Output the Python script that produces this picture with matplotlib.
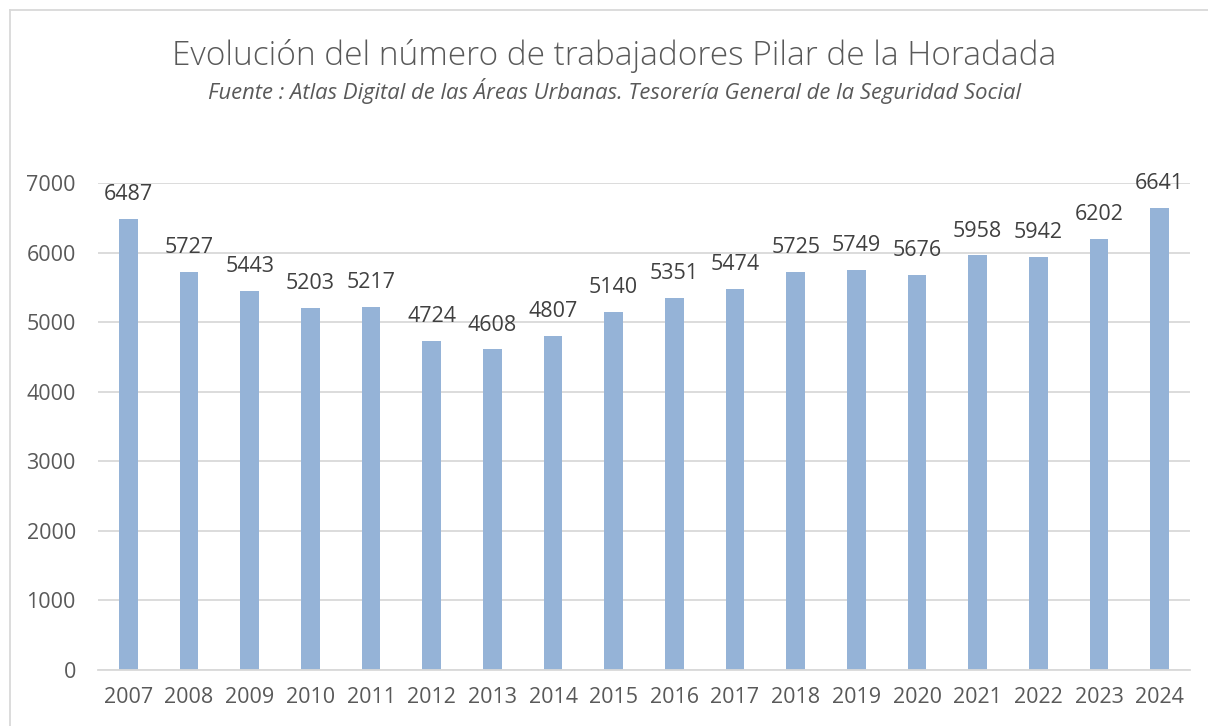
import matplotlib.pyplot as plt
from matplotlib.lines import Line2D

years = [str(y) for y in range(2007, 2025)]
workers = [6487, 5727, 5443, 5203, 5217, 4724, 4608, 4807, 5140,
           5351, 5474, 5725, 5749, 5676, 5958, 5942, 6202, 6641]
yticks = [0, 1000, 2000, 3000, 4000, 5000, 6000, 7000]

title = "Evolución del número de trabajadores Pilar de la Horadada"
subtitle = "Fuente : Atlas Digital de las Áreas Urbanas. Tesorería General de la Seguridad Social"

bar_color = "#95B3D7"
text_color = "#595959"
grid_color = "#D9D9D9"

plt.rcParams['font.family'] = ['Open Sans', 'DejaVu Sans']

W, H = 1208, 726
fig = plt.figure(figsize=(W / 100, H / 100), dpi=100)

# plot area in pixel coords: x 98..1190, y 183(7000)..670(0)
left, right, top, bottom = 98, 1190, 183, 670
ax = fig.add_axes([left / W, 1 - bottom / H, (right - left) / W, (bottom - top) / H])

x = list(range(len(years)))
ax.bar(x, workers, width=0.31, color=bar_color, zorder=3)
for xi, v in zip(x, workers):
    ax.text(xi, v + 200, str(v), ha='center', va='bottom', fontsize=15.5,
            color="#404040", zorder=4)

ax.set_xlim(-0.5, len(years) - 0.5)
ax.set_ylim(0, 7000)
ax.set_yticks(yticks)
ax.set_yticklabels([str(t) for t in yticks])
ax.set_xticks(x)
ax.set_xticklabels(years)
ax.tick_params(axis='both', length=0, labelsize=15.5, colors=text_color)
ax.tick_params(axis='y', pad=16)
ax.tick_params(axis='x', pad=12)
ax.grid(axis='y', color=grid_color, linewidth=1.3, zorder=0)
for s in ['top', 'right', 'left']:
    ax.spines[s].set_visible(False)
ax.spines['bottom'].set_color(grid_color)
ax.spines['bottom'].set_linewidth(1.3)
ax.spines['bottom'].set_zorder(5)

# chart frame starts at x=10 and runs past the right edge, so centre is ~614
cx = 614 / W
fig.text(cx, 1 - 56 / H, title, ha='center', va='center', fontsize=24,
         color=text_color, fontweight='light')
fig.text(cx, 1 - 91 / H, subtitle, ha='center', va='center', fontsize=15.8,
         color=text_color, style='italic')

# outer chart border (only top and left visible in the crop)
fig.add_artist(Line2D([10 / W, 1], [1 - 10 / H, 1 - 10 / H], color=grid_color, linewidth=1.3))
fig.add_artist(Line2D([10 / W, 10 / W], [0, 1 - 10 / H], color=grid_color, linewidth=1.3))

fig.savefig("out.png", dpi=100, facecolor='white')
